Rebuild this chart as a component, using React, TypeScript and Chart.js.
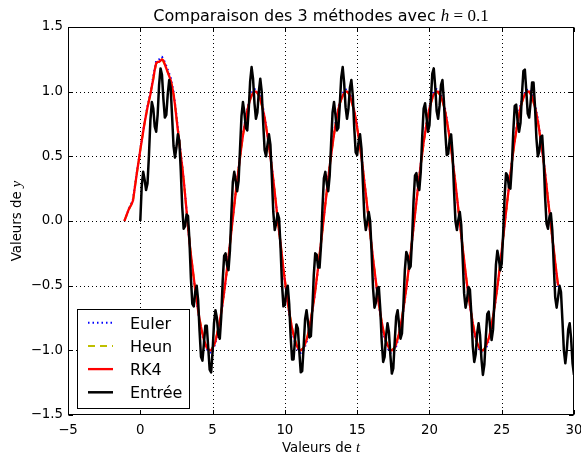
import React, { useEffect, useRef } from 'react';
import { Chart, registerables } from 'chart.js';

Chart.register(...registerables);

// ---- data (h = 0.1) ----
const H = 0.1;
const ENTREE_T0 = 0;
const ENTREE = [
  0.00, 0.27, 0.38, 0.32, 0.24, 0.29, 0.51, 0.78, 0.92, 0.87,
  0.73, 0.69, 0.82, 1.05, 1.18, 1.13, 0.94, 0.80, 0.82, 0.98,
  1.09, 1.03, 0.81, 0.58, 0.49, 0.57, 0.67, 0.62, 0.39, 0.11,
  -0.06, -0.04, 0.05, 0.04, -0.15, -0.44, -0.64, -0.66, -0.55, -0.50,
  -0.61, -0.85, -1.05, -1.08, -0.95, -0.81, -0.81, -0.98, -1.15, -1.17,
  -1.01, -0.79, -0.69, -0.75, -0.88, -0.91, -0.74, -0.46, -0.27, -0.25,
  -0.34, -0.38, -0.23, 0.05, 0.30, 0.38, 0.31, 0.23, 0.31, 0.56,
  0.81, 0.92, 0.84, 0.72, 0.70, 0.86, 1.08, 1.19, 1.10, 0.91,
  0.79, 0.84, 1.00, 1.10, 1.00, 0.76, 0.55, 0.50, 0.59, 0.67,
  0.59, 0.34, 0.07, -0.07, -0.02, 0.06, 0.02, -0.20, -0.48, -0.66,
  -0.65, -0.53, -0.50, -0.64, -0.89, -1.07, -1.07, -0.92, -0.80, -0.83,
  -1.01, -1.17, -1.16, -0.97, -0.76, -0.69, -0.78, -0.90, -0.89, -0.69,
  -0.42, -0.25, -0.26, -0.36, -0.36, -0.19, 0.10, 0.33, 0.38, 0.29,
  0.23, 0.35, 0.60, 0.84, 0.92, 0.82, 0.70, 0.72, 0.90, 1.11,
  1.19, 1.07, 0.88, 0.79, 0.87, 1.03, 1.09, 0.97, 0.72, 0.53,
  0.51, 0.61, 0.67, 0.56, 0.29, 0.03, -0.07, -0.01, 0.07, 0.00,
  -0.24, -0.52, -0.67, -0.63, -0.52, -0.51, -0.68, -0.93, -1.09, -1.05,
  -0.89, -0.79, -0.86, -1.04, -1.18, -1.14, -0.93, -0.74, -0.69, -0.80,
  -0.91, -0.87, -0.65, -0.38, -0.24, -0.27, -0.37, -0.35, -0.14, 0.15,
  0.35, 0.37, 0.27, 0.24, 0.38, 0.65, 0.87, 0.91, 0.80, 0.69,
  0.74, 0.94, 1.14, 1.18, 1.04, 0.85, 0.79, 0.89, 1.05, 1.09,
  0.93, 0.68, 0.51, 0.52, 0.63, 0.67, 0.52, 0.24, 0.00, -0.07,
  0.01, 0.07, -0.03, -0.29, -0.56, -0.67, -0.61, -0.51, -0.53, -0.72,
  -0.97, -1.09, -1.03, -0.87, -0.79, -0.88, -1.07, -1.19, -1.11, -0.90,
  -0.72, -0.70, -0.82, -0.92, -0.84, -0.60, -0.34, -0.23, -0.29, -0.38,
  -0.33, -0.10, 0.19, 0.37, 0.35, 0.26, 0.25, 0.42, 0.69, 0.89,
  0.90, 0.77, 0.69, 0.76, 0.98, 1.16, 1.17, 1.01, 0.83, 0.80,
  0.92, 1.07, 1.07, 0.89, 0.64, 0.50, 0.54, 0.65, 0.66, 0.48,
  0.19, -0.02, -0.06, 0.03, 0.06, -0.07, -0.34, -0.59, -0.67, -0.59,
  -0.50, -0.55, -0.77, -1.00, -1.10, -1.00, -0.84, -0.79, -0.91, -1.10,
  -1.19,
];

const RK4_T0 = -1.1;
const RK4 = [
  0.00, 0.03, 0.06, 0.09, 0.11, 0.13, 0.16, 0.24, 0.32, 0.40,
  0.47, 0.55, 0.62, 0.69, 0.76, 0.82, 0.88, 0.93, 0.98, 1.04,
  1.10, 1.17, 1.22, 1.23, 1.23, 1.24, 1.25, 1.24, 1.21, 1.18,
  1.15, 1.12, 1.09, 1.04, 0.98, 0.90, 0.80, 0.70, 0.61, 0.51,
  0.42, 0.32, 0.20, 0.08, -0.04, -0.16, -0.26, -0.35, -0.44, -0.53,
  -0.61, -0.69, -0.76, -0.82, -0.87, -0.92, -0.95, -0.98, -0.99, -1.00,
  -1.00, -0.98, -0.96, -0.93, -0.88, -0.83, -0.77, -0.71, -0.63, -0.55,
  -0.46, -0.37, -0.28, -0.18, -0.08, 0.02, 0.12, 0.22, 0.31, 0.40,
  0.49, 0.58, 0.66, 0.73, 0.79, 0.85, 0.90, 0.94, 0.97, 0.99,
  1.00, 1.00, 0.99, 0.97, 0.94, 0.90, 0.85, 0.80, 0.73, 0.66,
  0.58, 0.50, 0.41, 0.32, 0.22, 0.12, 0.02, -0.08, -0.17, -0.27,
  -0.37, -0.46, -0.54, -0.63, -0.70, -0.77, -0.83, -0.88, -0.92, -0.96,
  -0.98, -1.00, -1.00, -0.99, -0.98, -0.95, -0.92, -0.88, -0.82, -0.76,
  -0.69, -0.62, -0.54, -0.45, -0.36, -0.26, -0.17, -0.07, 0.03, 0.13,
  0.23, 0.33, 0.42, 0.51, 0.59, 0.67, 0.74, 0.80, 0.86, 0.91,
  0.94, 0.97, 0.99, 1.00, 1.00, 0.99, 0.97, 0.93, 0.89, 0.85,
  0.79, 0.72, 0.65, 0.57, 0.49, 0.40, 0.30, 0.21, 0.11, 0.01,
  -0.09, -0.19, -0.29, -0.38, -0.47, -0.56, -0.64, -0.71, -0.78, -0.84,
  -0.89, -0.93, -0.96, -0.98, -1.00, -1.00, -0.99, -0.98, -0.95, -0.91,
  -0.87, -0.81, -0.75, -0.68, -0.60, -0.52, -0.43, -0.34, -0.25, -0.15,
  -0.05, 0.05, 0.15, 0.25, 0.34, 0.44, 0.52, 0.61, 0.68, 0.75,
  0.81, 0.87, 0.91, 0.95, 0.98, 0.99, 1.00, 1.00, 0.98, 0.96,
  0.93, 0.89, 0.84, 0.78, 0.71, 0.64, 0.56, 0.47, 0.38, 0.29,
  0.19, 0.09, -0.01, -0.11, -0.21, -0.30, -0.40, -0.49, -0.57, -0.65,
  -0.72, -0.79, -0.85, -0.90, -0.94, -0.97, -0.99, -1.00, -1.00, -0.99,
  -0.97, -0.94, -0.91, -0.86, -0.80, -0.74, -0.67, -0.59, -0.51, -0.42,
  -0.33, -0.23, -0.13, -0.03, 0.07, 0.17, 0.26, 0.36, 0.45, 0.54,
  0.62, 0.69, 0.76, 0.82, 0.88, 0.92, 0.95, 0.98, 0.99, 1.00,
  1.00, 0.98, 0.96, 0.92, 0.88, 0.83, 0.77, 0.70, 0.62, 0.54,
  0.46, 0.37, 0.27, 0.17, 0.07, -0.03, -0.13, -0.22, -0.32, -0.41,
  -0.50,
];

const COARSE_T0 = -1.1;
const COARSE_STEP = 0.2;
const HEUN = [
  0.00, 0.06, 0.11, 0.16, 0.32, 0.47, 0.62, 0.76, 0.88, 0.98,
  1.10, 1.22, 1.23, 1.25, 1.21, 1.15, 1.09, 0.98, 0.80, 0.61,
  0.42, 0.20, -0.04, -0.26, -0.44, -0.61, -0.76, -0.87, -0.95, -0.99,
  -1.00, -0.96, -0.88, -0.77, -0.63, -0.46, -0.28, -0.08, 0.12, 0.31,
  0.49, 0.66, 0.79, 0.90, 0.97, 1.00, 0.99, 0.94, 0.85, 0.73,
  0.58, 0.41, 0.22, 0.02, -0.17, -0.37, -0.54, -0.70, -0.83, -0.92,
  -0.98, -1.00, -0.98, -0.92, -0.82, -0.69, -0.54, -0.36, -0.17, 0.03,
  0.23, 0.42, 0.59, 0.74, 0.86, 0.94, 0.99, 1.00, 0.97, 0.89,
  0.79, 0.65, 0.49, 0.30, 0.11, -0.09, -0.29, -0.47, -0.64, -0.78,
  -0.89, -0.96, -1.00, -0.99, -0.95, -0.87, -0.75, -0.60, -0.43, -0.25,
  -0.05, 0.15, 0.34, 0.52, 0.68, 0.81, 0.91, 0.98, 1.00, 0.98,
  0.93, 0.84, 0.71, 0.56, 0.38, 0.19, -0.01, -0.21, -0.40, -0.57,
  -0.72, -0.85, -0.94, -0.99, -1.00, -0.97, -0.91, -0.80, -0.67, -0.51,
  -0.33, -0.13, 0.07, 0.26, 0.45, 0.62, 0.76, 0.88, 0.95, 0.99,
  1.00, 0.96, 0.88, 0.77, 0.62, 0.46, 0.27, 0.07, -0.13, -0.32,
  -0.50,
];
const EULER = [
  0.00, 0.06, 0.12, 0.17, 0.33, 0.48, 0.63, 0.77, 0.89, 0.99,
  1.12, 1.24, 1.25, 1.27, 1.23, 1.17, 1.11, 1.00, 0.82, 0.62,
  0.43, 0.21, -0.04, -0.27, -0.45, -0.62, -0.78, -0.89, -0.97, -1.01,
  -1.02, -0.98, -0.90, -0.78, -0.64, -0.47, -0.28, -0.08, 0.12, 0.32,
  0.50, 0.67, 0.81, 0.92, 0.99, 1.02, 1.01, 0.96, 0.87, 0.74,
  0.59, 0.42, 0.22, 0.02, -0.18, -0.38, -0.55, -0.72, -0.85, -0.94,
  -1.00, -1.02, -1.00, -0.94, -0.84, -0.70, -0.55, -0.37, -0.17, 0.03,
  0.24, 0.43, 0.60, 0.76, 0.88, 0.96, 1.01, 1.02, 0.99, 0.91,
  0.81, 0.66, 0.50, 0.31, 0.11, -0.09, -0.30, -0.48, -0.65, -0.80,
  -0.91, -0.98, -1.02, -1.01, -0.97, -0.89, -0.77, -0.61, -0.44, -0.25,
  -0.05, 0.15, 0.35, 0.53, 0.69, 0.83, 0.93, 1.00, 1.02, 1.00,
  0.95, 0.86, 0.72, 0.57, 0.39, 0.19, -0.01, -0.21, -0.41, -0.58,
  -0.73, -0.87, -0.96, -1.01, -1.02, -0.99, -0.93, -0.82, -0.68, -0.52,
  -0.34, -0.13, 0.07, 0.27, 0.46, 0.63, 0.78, 0.90, 0.97, 1.01,
  1.02, 0.98, 0.90, 0.79, 0.63, 0.47, 0.28, 0.07, -0.13, -0.33,
  -0.51,
];

const X_TICKS = [-5, 0, 5, 10, 15, 20, 25, 30];
const Y_TICKS = [-1.5, -1.0, -0.5, 0.0, 0.5, 1.0, 1.5];

const TITLE_TEXT = 'Comparaison des 3 méthodes avec ';
const TITLE_VAR = 'h';
const TITLE_EQ = ' = 0.1';
const X_LABEL = 'Valeurs de ';
const X_VAR = 't';
const Y_LABEL = 'Valeurs de ';
const Y_VAR = 'y';

const SANS = '"DejaVu Sans", sans-serif';
const SERIF = '"Liberation Serif", "DejaVu Serif", serif';

const toPoints = (t0: number, step: number, ys: number[]) =>
  ys.map((y, i) => ({ x: Math.round((t0 + i * step) * 100) / 100, y }));

const fmt = (v: number, digits: number) => {
  const s = Math.abs(v).toFixed(digits);
  return v < -1e-9 ? '\u2212' + s : s;
};

type Part = { text: string; font: string };
const partsWidth = (ctx: CanvasRenderingContext2D, parts: Part[]) => {
  let w = 0;
  for (const p of parts) {
    ctx.font = p.font;
    w += ctx.measureText(p.text).width;
  }
  return w;
};
const drawParts = (ctx: CanvasRenderingContext2D, parts: Part[], x: number, y: number) => {
  let cx = x;
  for (const p of parts) {
    ctx.font = p.font;
    ctx.fillText(p.text, cx, y);
    cx += ctx.measureText(p.text).width;
  }
};

const mplPlugin = {
  id: 'mplStyle',
  beforeDatasetsDraw(chart: any) {
    const { ctx, chartArea: a, scales } = chart;
    ctx.save();
    ctx.strokeStyle = '#000';
    ctx.lineWidth = 1;
    ctx.setLineDash([1, 3]);
    for (const v of X_TICKS) {
      const px = Math.round(scales.x.getPixelForValue(v)) + 0.5;
      if (px < a.left + 1 || px > a.right - 1) continue;
      ctx.beginPath();
      ctx.moveTo(px, a.top);
      ctx.lineTo(px, a.bottom);
      ctx.stroke();
    }
    for (const v of Y_TICKS) {
      const py = Math.round(scales.y.getPixelForValue(v)) + 0.5;
      if (py < a.top + 1 || py > a.bottom - 1) continue;
      ctx.beginPath();
      ctx.moveTo(a.left, py);
      ctx.lineTo(a.right, py);
      ctx.stroke();
    }
    ctx.restore();
  },
  afterDatasetsDraw(chart: any) {
    const { ctx, chartArea: a, scales } = chart;
    ctx.save();
    ctx.setLineDash([]);
    ctx.strokeStyle = '#000';
    ctx.lineWidth = 1;
    const L = Math.round(a.left) + 0.5;
    const R = Math.round(a.right) - 0.5;
    const T = Math.round(a.top) + 0.5;
    const B = Math.round(a.bottom) - 0.5;
    ctx.strokeRect(L, T, R - L, B - T);
    const tl = 4.5;
    ctx.beginPath();
    for (const v of X_TICKS) {
      const px = Math.round(scales.x.getPixelForValue(v)) + 0.5;
      ctx.moveTo(px, B);
      ctx.lineTo(px, B - tl);
      ctx.moveTo(px, T);
      ctx.lineTo(px, T + tl);
    }
    for (const v of Y_TICKS) {
      const py = Math.round(scales.y.getPixelForValue(v)) + 0.5;
      ctx.moveTo(L, py);
      ctx.lineTo(L + tl, py);
      ctx.moveTo(R, py);
      ctx.lineTo(R - tl, py);
    }
    ctx.stroke();
    ctx.restore();
  },
  afterDraw(chart: any) {
    const { ctx, chartArea: a } = chart;
    ctx.save();
    ctx.fillStyle = '#000';
    ctx.textBaseline = 'alphabetic';
    ctx.textAlign = 'left';
    const cx = (a.left + a.right) / 2;

    // title
    const title: Part[] = [
      { text: TITLE_TEXT, font: `16px ${SANS}` },
      { text: TITLE_VAR, font: `italic 17px ${SERIF}` },
      { text: TITLE_EQ, font: `17px ${SERIF}` },
    ];
    drawParts(ctx, title, cx - partsWidth(ctx, title) / 2, 20.5);

    // x label
    const xl: Part[] = [
      { text: X_LABEL, font: `13.33px ${SANS}` },
      { text: X_VAR, font: `italic 14.5px ${SERIF}` },
    ];
    drawParts(ctx, xl, cx - partsWidth(ctx, xl) / 2, 451.5);

    // y label
    const yl: Part[] = [
      { text: Y_LABEL, font: `13.33px ${SANS}` },
      { text: Y_VAR, font: `italic 14.5px ${SERIF}` },
    ];
    ctx.save();
    ctx.translate(20.7, (a.top + a.bottom) / 2);
    ctx.rotate(-Math.PI / 2);
    drawParts(ctx, yl, -partsWidth(ctx, yl) / 2, 0);
    ctx.restore();

    // legend
    const bx = 77.5, by = 309.5, bw = 112, bh = 99;
    ctx.fillStyle = '#fff';
    ctx.fillRect(bx, by, bw, bh);
    ctx.strokeStyle = '#000';
    ctx.lineWidth = 1;
    ctx.setLineDash([]);
    ctx.strokeRect(bx, by, bw, bh);
    const rows = [322.7, 345.9, 369.1, 392.3];
    chart.data.datasets.forEach((ds: any, i: number) => {
      const y = rows[i];
      ctx.save();
      ctx.strokeStyle = ds.borderColor;
      ctx.lineWidth = ds.borderWidth;
      ctx.setLineDash(ds.borderDash || []);
      ctx.beginPath();
      ctx.moveTo(88, y);
      ctx.lineTo(113, y);
      ctx.stroke();
      ctx.restore();
      ctx.fillStyle = '#000';
      ctx.font = `16px ${SANS}`;
      ctx.fillText(ds.label, 130, y + 5.8);
    });
    ctx.restore();
  },
};

export default function App() {
  const ref = useRef<HTMLCanvasElement | null>(null);
  useEffect(() => {
    if (!ref.current) return;
    const tickFont = { family: SANS, size: 13.33 };
    const chart = new Chart(ref.current, {
      type: 'line',
      data: {
        datasets: [
          {
            label: 'Euler',
            data: toPoints(COARSE_T0, COARSE_STEP, EULER),
            borderColor: '#0000ff',
            borderWidth: 2,
            borderDash: [1.5, 3],
            order: 4,
          },
          {
            label: 'Heun',
            data: toPoints(COARSE_T0, COARSE_STEP, HEUN),
            borderColor: '#bfbf00',
            borderWidth: 2,
            borderDash: [7, 5],
            order: 3,
          },
          {
            label: 'RK4',
            data: toPoints(RK4_T0, H, RK4),
            borderColor: '#ff0000',
            borderWidth: 2.3,
            order: 2,
          },
          {
            label: 'Entrée',
            data: toPoints(ENTREE_T0, H, ENTREE),
            borderColor: '#000000',
            borderWidth: 2.5,
            order: 1,
          },
        ] as any,
      },
      options: {
        responsive: false,
        animation: false,
        devicePixelRatio: 1,
        elements: {
          point: { radius: 0, hoverRadius: 0 },
          line: { tension: 0, fill: false, borderJoinStyle: 'round', borderCapStyle: 'butt' },
        },
        layout: { padding: { top: 27, right: 7, bottom: 0, left: 0 } },
        plugins: {
          legend: { display: false },
          title: { display: false },
          tooltip: { enabled: false },
        },
        events: [],
        scales: {
          x: {
            type: 'linear',
            min: -5,
            max: 30,
            afterFit: (s: any) => { s.height = 39; s.paddingLeft = 0; s.paddingRight = 0; },
            grid: { display: false, drawTicks: false },
            border: { display: false },
            ticks: {
              stepSize: 5,
              padding: 8,
              color: '#000',
              font: tickFont,
              maxRotation: 0,
              autoSkip: false,
              callback: (v: any) => fmt(Number(v), 0),
            },
          },
          y: {
            type: 'linear',
            min: -1.5,
            max: 1.5,
            afterFit: (s: any) => { s.width = 68; s.paddingTop = 0; s.paddingBottom = 0; },
            grid: { display: false, drawTicks: false },
            border: { display: false },
            ticks: {
              stepSize: 0.5,
              padding: 5,
              color: '#000',
              font: tickFont,
              autoSkip: false,
              callback: (v: any) => fmt(Number(v), 1),
            },
          },
        },
      } as any,
      plugins: [mplPlugin],
    });
    return () => chart.destroy();
  }, []);

  return (
    <div style={{ position: 'fixed', left: 0, top: 0, width: 581, height: 454, background: '#fff' }}>
      <canvas ref={ref} width={581} height={454} style={{ display: 'block' }} />
    </div>
  );
}
